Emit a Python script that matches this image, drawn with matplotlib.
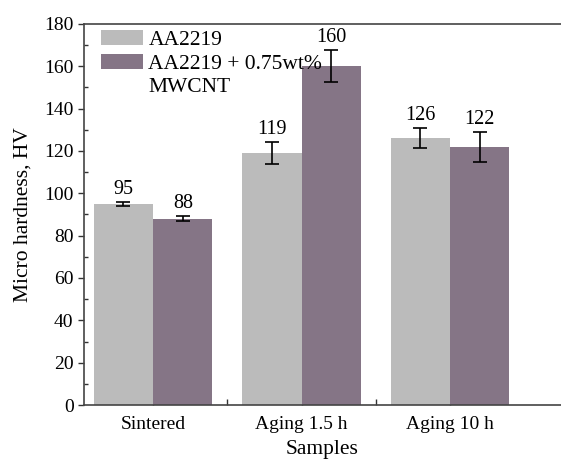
import matplotlib
matplotlib.use("Agg")
import matplotlib.pyplot as plt
from matplotlib.ticker import MultipleLocator, FixedLocator
from matplotlib.patches import Patch
import numpy as np

categories = ["Sintered", "Aging 1.5 h", "Aging 10 h"]
base_vals = [95, 119, 126]
base_err = [1.0, 5.3, 4.8]
cnt_vals = [88, 160, 122]
cnt_err = [1.2, 7.5, 7.0]
series_names = ["AA2219", "AA2219 + 0.75wt%", "MWCNT"]

plt.rcParams['font.family'] = ['Liberation Serif', 'DejaVu Serif']
plt.rcParams['font.size'] = 14

fig = plt.figure(figsize=(5.61, 4.59), dpi=100)
ax = fig.add_axes([84/561, 54/459, 1 - 84/561, 381/459])

x = np.arange(len(categories))
w = 0.4
gray = '#BBBBBB'
purple = '#857586'
ax.bar(x - w/2, base_vals, w, color=gray, zorder=2)
ax.bar(x + w/2, cnt_vals, w, color=purple, zorder=2)
ax.errorbar(x - w/2, base_vals, yerr=base_err, fmt='none', ecolor='black',
            elinewidth=1.2, capsize=5, capthick=1.2, zorder=3)
ax.errorbar(x + w/2, cnt_vals, yerr=cnt_err, fmt='none', ecolor='black',
            elinewidth=1.2, capsize=5, capthick=1.2, zorder=3)

for xi, v, e in zip(x - w/2, base_vals, base_err):
    ax.text(xi, v + e + 1.5, f"{v}", ha='center', va='bottom', fontsize=14.5)
for xi, v, e in zip(x + w/2, cnt_vals, cnt_err):
    ax.text(xi, v + e + 1.5, f"{v}", ha='center', va='bottom', fontsize=14.5)

ax.set_xlim(-0.465, 2.747)
ax.set_ylim(0, 180)
ax.set_xticks(x)
ax.set_xticklabels(categories)
ax.xaxis.set_minor_locator(FixedLocator([0.5, 1.5]))
ax.yaxis.set_major_locator(MultipleLocator(20))
ax.yaxis.set_minor_locator(MultipleLocator(10))
ax.tick_params(axis='x', which='both', direction='in', length=4, width=1, color='#333333', pad=8)
ax.tick_params(axis='y', which='major', direction='out', length=4, width=1, color='#333333')
ax.tick_params(axis='y', which='minor', direction='in', length=3, width=1, color='#333333')

for s in ['left', 'bottom', 'top']:
    ax.spines[s].set_color('#444444')
    ax.spines[s].set_linewidth(1.2)
ax.spines['right'].set_visible(False)

ax.set_ylabel("Micro hardness, HV", fontsize=15.5, labelpad=8)
ax.set_xlabel("Samples", fontsize=15.5, labelpad=5)

handles = [Patch(facecolor=gray), Patch(facecolor=purple),
           Patch(facecolor='none', edgecolor='none')]
ax.legend(handles, series_names, loc='upper left', bbox_to_anchor=(17/477, 1 - 6/381),
          frameon=False, fontsize=15.5, handlelength=1.95,
          handleheight=0.7, handletextpad=0.25, borderaxespad=0,
          labelspacing=0.16, borderpad=0)

fig.savefig("out.png", dpi=100)
